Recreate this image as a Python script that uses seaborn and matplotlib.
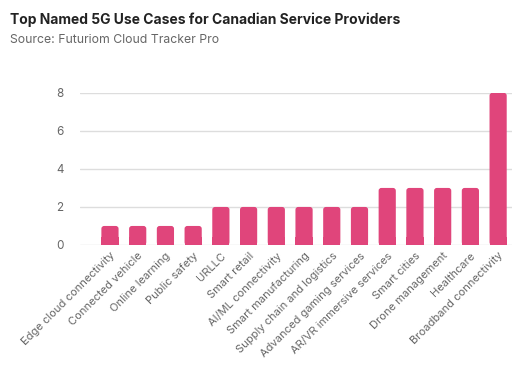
import matplotlib
matplotlib.use("Agg")
import matplotlib.pyplot as plt
import seaborn as sns
import pandas as pd
from matplotlib.patches import FancyBboxPatch

categories = ["Edge cloud connectivity", "Connected vehicle", "Online learning", "Public safety",
              "URLLC", "Smart retail", "AI/ML connectivity", "Smart manufacturing",
              "Supply chain and logistics", "Advanced gaming services", "AR/VR immersive services",
              "Smart cities", "Drone management", "Healthcare", "Broadband connectivity"]
values = [1, 1, 1, 1, 2, 2, 2, 2, 2, 2, 3, 3, 3, 3, 8]
yticks = [0, 2, 4, 6, 8]

title = "Top Named 5G Use Cases for Canadian Service Providers"
subtitle = "Source: Futuriom Cloud Tracker Pro"

sns.set_style("white")
plt.rcParams['font.family'] = ['Inter', 'DejaVu Sans']

BAR = "#E0457B"
df = pd.DataFrame({"cat": categories, "val": values})
fig = plt.figure(figsize=(5.3, 3.87), dpi=100)
ax = fig.add_axes([0.151, 0.367, 0.815, 0.393])
sns.barplot(data=df, x="cat", y="val", color=BAR, width=0.62, ax=ax, saturation=1)

# rounded top corners
for p in list(ax.patches):
    x, y, w, h = p.get_x(), p.get_y(), p.get_width(), p.get_height()
    p.set_visible(False)
    fb = FancyBboxPatch((x, y), w, h, boxstyle="round,pad=0,rounding_size=0.1",
                        mutation_aspect=1.46, facecolor=BAR, edgecolor="none", zorder=3)
    ax.add_patch(fb)
    ax.add_patch(plt.Rectangle((x, y), w, min(h, 0.4), facecolor=BAR, edgecolor="none", zorder=3))

ax.set_ylim(0, 8)
ax.set_xlim(-1.08, 14.5)
ax.set_yticks(yticks)
ax.set_yticklabels([str(v) for v in yticks], color="#666666", fontsize=8.4)
ax.tick_params(axis="y", length=0, pad=12)
ax.tick_params(axis="x", length=0, pad=4)
ax.set_xticks(range(len(categories)))
ax.set_xticklabels(categories, rotation=45, ha="right", rotation_mode="anchor",
                   color="#666666", fontsize=8)
ax.yaxis.grid(True, color="#dddddd", linewidth=1)
ax.set_axisbelow(True)
for s in ax.spines.values():
    s.set_visible(False)
ax.set_xlabel("")
ax.set_ylabel("")

fig.text(10/530, 1-20/387, title, fontsize=10, fontweight="bold", color="#222222", va="center")
fig.text(10/530, 1-40/387, subtitle, fontsize=8.8, color="#666666", va="center")

fig.savefig("out.png", dpi=100)
